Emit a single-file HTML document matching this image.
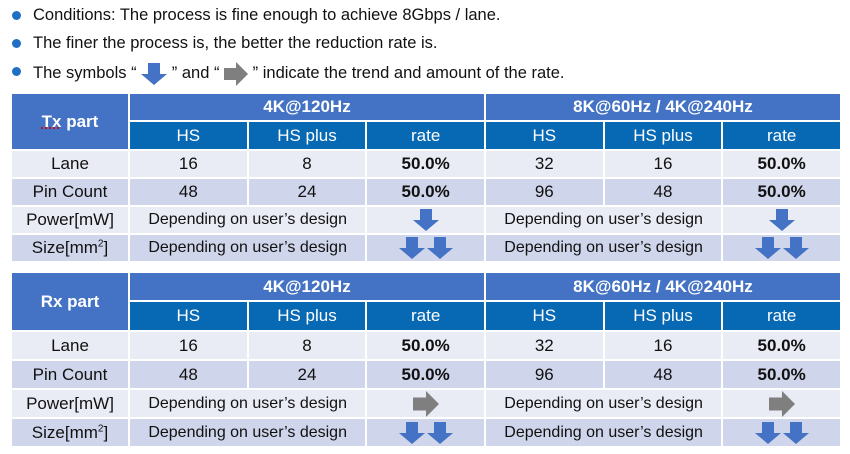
<!DOCTYPE html>
<html><head><meta charset="utf-8"><style>
body{margin:0;width:850px;height:454px;background:#fff;font-family:"Liberation Sans",Arial,sans-serif;position:relative;overflow:hidden}
.b{position:absolute;left:12px;font-size:16.5px;color:#111}
.b:before{content:"";position:absolute;left:0;top:5px;width:9px;height:9px;border-radius:50%;background:#1F6FC5}
.b span{margin-left:21px}
table{position:absolute;left:10px;width:832px;border-collapse:collapse;table-layout:fixed}
td{border:2px solid #fff;text-align:center;font-size:17px;color:#111;padding:0;white-space:nowrap}
.h{background:#4472C4;color:#fff;font-weight:bold}
.s{background:#0768B4;color:#fff}
.l{background:#E9EBF5}
.d{background:#CFD5EA}
.r{font-weight:bold}
.t{font-size:16px}
svg{vertical-align:middle}
</style></head><body>
<div class="b" style="top:6px"><span>Conditions: The process is fine enough to achieve 8Gbps / lane.</span></div>
<div class="b" style="top:34px"><span>The finer the process is, the better the reduction rate is.</span></div>
<div class="b" style="top:62px"><span>The symbols “ <svg width="26" height="22" viewBox="0 0 26 22"><path d="M7 0h12v11h7L13 22 0 11h7z" fill="#4472C4"/></svg> ” and “ <svg width="24" height="24" viewBox="0 0 24 24"><path d="M0 6h12V0l12 12-12 12v-6H0z" fill="#7F7F7F"/></svg> ” indicate the trend and amount of the rate.</span></div>

<table style="top:92px">
<colgroup><col style="width:118px"><col><col><col><col><col><col></colgroup>
<tr style="height:28px"><td class="h" rowspan="2" style="font-size:17px"><u style="text-decoration-color:#c00;text-decoration-style:dotted">Tx</u> part</td><td class="h" colspan="3">4K@120Hz</td><td class="h" colspan="3">8K@60Hz / 4K@240Hz</td></tr>
<tr style="height:29px"><td class="s">HS</td><td class="s">HS plus</td><td class="s">rate</td><td class="s">HS</td><td class="s">HS plus</td><td class="s">rate</td></tr>
<tr style="height:28px"><td class="l">Lane</td><td class="l">16</td><td class="l">8</td><td class="l r">50.0%</td><td class="l">32</td><td class="l">16</td><td class="l r">50.0%</td></tr>
<tr style="height:28px"><td class="d">Pin Count</td><td class="d">48</td><td class="d">24</td><td class="d r">50.0%</td><td class="d">96</td><td class="d">48</td><td class="d r">50.0%</td></tr>
<tr style="height:28px"><td class="l">Power[mW]</td><td class="l t" colspan="2">Depending on user’s design</td><td class="l"><svg width="26" height="24" viewBox="0 0 26 22"><path d="M7 0h12v11h7L13 22 0 11h7z" fill="#4472C4"/></svg></td><td class="l t" colspan="2">Depending on user’s design</td><td class="l"><svg width="26" height="24" viewBox="0 0 26 22"><path d="M7 0h12v11h7L13 22 0 11h7z" fill="#4472C4"/></svg></td></tr>
<tr style="height:28px"><td class="d">Size[mm<sup style="font-size:10px">2</sup>]</td><td class="d t" colspan="2">Depending on user’s design</td><td class="d"><svg width="54" height="24" viewBox="0 0 54 22"><path d="M7 0h12v11h7L13 22 0 11h7z" fill="#4472C4"/><path d="M35 0h12v11h7L41 22 28 11h7z" fill="#4472C4"/></svg></td><td class="d t" colspan="2">Depending on user’s design</td><td class="d"><svg width="54" height="24" viewBox="0 0 54 22"><path d="M7 0h12v11h7L13 22 0 11h7z" fill="#4472C4"/><path d="M35 0h12v11h7L41 22 28 11h7z" fill="#4472C4"/></svg></td></tr>
</table>

<table style="top:271px">
<colgroup><col style="width:118px"><col><col><col><col><col><col></colgroup>
<tr style="height:29px"><td class="h" rowspan="2" style="font-size:17px">Rx part</td><td class="h" colspan="3">4K@120Hz</td><td class="h" colspan="3">8K@60Hz / 4K@240Hz</td></tr>
<tr style="height:30px"><td class="s">HS</td><td class="s">HS plus</td><td class="s">rate</td><td class="s">HS</td><td class="s">HS plus</td><td class="s">rate</td></tr>
<tr style="height:29px"><td class="l">Lane</td><td class="l">16</td><td class="l">8</td><td class="l r">50.0%</td><td class="l">32</td><td class="l">16</td><td class="l r">50.0%</td></tr>
<tr style="height:29px"><td class="d">Pin Count</td><td class="d">48</td><td class="d">24</td><td class="d r">50.0%</td><td class="d">96</td><td class="d">48</td><td class="d r">50.0%</td></tr>
<tr style="height:29px"><td class="l">Power[mW]</td><td class="l t" colspan="2">Depending on user’s design</td><td class="l"><svg width="26" height="26" viewBox="0 0 24 24"><path d="M0 6h12V0l12 12-12 12v-6H0z" fill="#7F7F7F"/></svg></td><td class="l t" colspan="2">Depending on user’s design</td><td class="l"><svg width="26" height="26" viewBox="0 0 24 24"><path d="M0 6h12V0l12 12-12 12v-6H0z" fill="#7F7F7F"/></svg></td></tr>
<tr style="height:29px"><td class="d">Size[mm<sup style="font-size:10px">2</sup>]</td><td class="d t" colspan="2">Depending on user’s design</td><td class="d"><svg width="54" height="24" viewBox="0 0 54 22"><path d="M7 0h12v11h7L13 22 0 11h7z" fill="#4472C4"/><path d="M35 0h12v11h7L41 22 28 11h7z" fill="#4472C4"/></svg></td><td class="d t" colspan="2">Depending on user’s design</td><td class="d"><svg width="54" height="24" viewBox="0 0 54 22"><path d="M7 0h12v11h7L13 22 0 11h7z" fill="#4472C4"/><path d="M35 0h12v11h7L41 22 28 11h7z" fill="#4472C4"/></svg></td></tr>
</table>
</body></html>
